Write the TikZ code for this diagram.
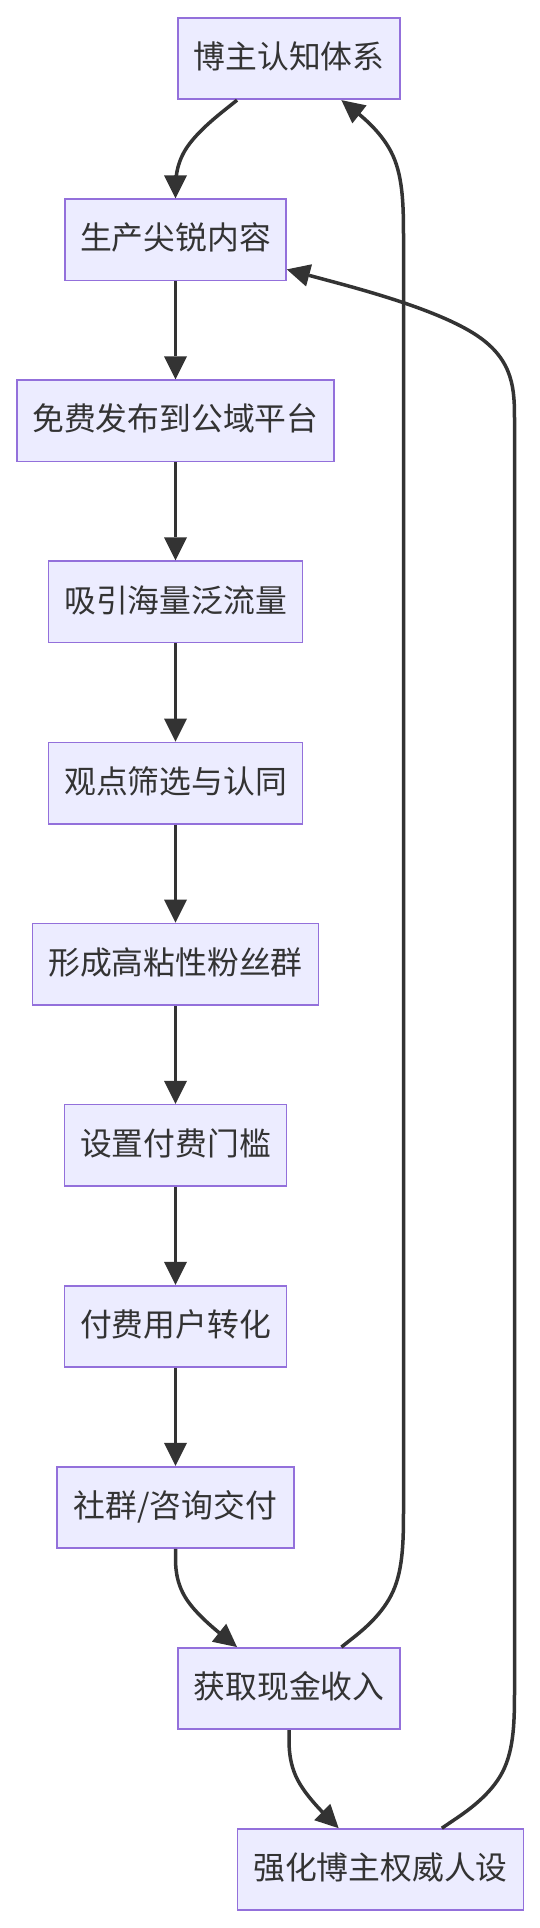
\documentclass[tikz,border=0pt]{standalone}
\usepackage{fontspec}
\newfontfamily\cjkfont{Noto Sans CJK SC}
\usetikzlibrary{arrows.meta,calc}
\definecolor{boxfill}{HTML}{ECECFF}
\definecolor{boxline}{HTML}{9370DB}
\definecolor{inkcol}{HTML}{333333}
\newcommand\flowcurve[5]{%
  \draw[link] (#1) -- ($(#2)!0.16667!(#3)$)
    .. controls ($(#2)!0.33333!(#3)$) and ($(#2)!0.66667!(#3)$)
    .. ($0.16667*(#2)+0.66667*(#3)+0.16667*(#4)$)
    .. controls ($(#3)!0.33333!(#4)$) and ($(#3)!0.66667!(#4)$)
    .. ($(#3)!0.83333!(#4)$) -- (#5);}
\begin{document}
\begin{tikzpicture}[x=1pt,y=-1pt,
  flowbox/.style={draw=boxline, line width=1.7pt, fill=boxfill, text=inkcol,
    inner sep=0pt, minimum height=81.3pt, minimum width=#1,
    font=\cjkfont\fontsize{31.8pt}{38pt}\selectfont,
    text height=23.85pt, text depth=3.69pt},
  link/.style={draw=inkcol, line width=3.5pt,
    -{Triangle[length=23pt,width=23pt,line width=0pt]}}]
\useasboundingbox (0,0) rectangle (540,1928);
\fill[white] (0,0) rectangle (540,1928);

\node[flowbox=222pt] (b1)  at (289,58.65)    {博主认知体系};
\node[flowbox=221pt] (b2)  at (175.5,239.75) {生产尖锐内容};
\node[flowbox=317pt] (b3)  at (175.5,420.85) {免费发布到公域平台};
\node[flowbox=254pt] (b4)  at (175.5,601.95) {吸引海量泛流量};
\node[flowbox=254pt] (b5)  at (175.5,783.05) {观点筛选与认同};
\node[flowbox=286pt] (b6)  at (175.5,964.15) {形成高粘性粉丝群};
\node[flowbox=222pt] (b7)  at (175.5,1145.25) {设置付费门槛};
\node[flowbox=222pt] (b8)  at (175.5,1326.35) {付费用户转化};
\node[flowbox=237pt] (b9)  at (175.5,1507.45) {社群/咨询交付};
\node[flowbox=222pt] (b10) at (289,1688.55)  {获取现金收入};
\node[flowbox=286pt] (b11) at (380.5,1869.65) {强化博主权威人设};

% spline knots
\coordinate (m1)  at (175.5,149.2);
\coordinate (m9)  at (175.5,1598.0);
\coordinate (m10) at (289,1779.1);
\coordinate (d1)  at (403.5,149.2);
\coordinate (d2)  at (403.5,239.75);
\coordinate (d16) at (403.5,1507.45);
\coordinate (d17) at (403.5,1598.0);
\coordinate (e3)  at (514.5,330.3);
\coordinate (e4)  at (514.5,420.85);
\coordinate (e18) at (514.5,1688.55);
\coordinate (e19) at (514.5,1779.1);

% border points
\path (m1) -- (b1) coordinate[pos=1] (s1);
\path (m1) -- (b2) coordinate[pos=1] (t1);
\path (m9) -- (b9) coordinate[pos=1] (s9);
\path (m9) -- (b10) coordinate[pos=1] (t9);
\path (m10) -- (b10) coordinate[pos=1] (s10);
\path (m10) -- (b11) coordinate[pos=1] (t10);
\path (d17) -- (b10) coordinate[pos=1] (s11);
\path (d1) -- (b1) coordinate[pos=1] (t11);
\path (e19) -- (b11) coordinate[pos=1] (s12);
\path (e3) -- (b2) coordinate[pos=1] (t12);

% edges
\flowcurve{b1}{s1}{m1}{t1}{b2}
\draw[link] (b2) -- (b3);
\draw[link] (b3) -- (b4);
\draw[link] (b4) -- (b5);
\draw[link] (b5) -- (b6);
\draw[link] (b6) -- (b7);
\draw[link] (b7) -- (b8);
\draw[link] (b8) -- (b9);
\flowcurve{b9}{s9}{m9}{t9}{b10}
\flowcurve{b10}{s10}{m10}{t10}{b11}

\draw[link] (b10) -- ($(s11)!0.16667!(d17)$)
  .. controls ($(s11)!0.33333!(d17)$) and ($(s11)!0.66667!(d17)$)
  .. ($0.16667*(s11)+0.66667*(d17)+0.16667*(d16)$)
  .. controls ($(d17)!0.33333!(d16)$) and ($(d17)!0.66667!(d16)$)
  .. (d16) -- (d2)
  .. controls ($(d2)!0.33333!(d1)$) and ($(d2)!0.66667!(d1)$)
  .. ($0.16667*(d2)+0.66667*(d1)+0.16667*(t11)$)
  .. controls ($(d1)!0.33333!(t11)$) and ($(d1)!0.66667!(t11)$)
  .. ($(d1)!0.83333!(t11)$) -- (b1);

\draw[link] (b11) -- ($(s12)!0.16667!(e19)$)
  .. controls ($(s12)!0.33333!(e19)$) and ($(s12)!0.66667!(e19)$)
  .. ($0.16667*(s12)+0.66667*(e19)+0.16667*(e18)$)
  .. controls ($(e19)!0.33333!(e18)$) and ($(e19)!0.66667!(e18)$)
  .. (e18) -- (e4)
  .. controls ($(e4)!0.33333!(e3)$) and ($(e4)!0.66667!(e3)$)
  .. ($0.16667*(e4)+0.66667*(e3)+0.16667*(t12)$)
  .. controls ($(e3)!0.33333!(t12)$) and ($(e3)!0.66667!(t12)$)
  .. ($(e3)!0.83333!(t12)$) -- (b2);
\end{tikzpicture}
\end{document}
